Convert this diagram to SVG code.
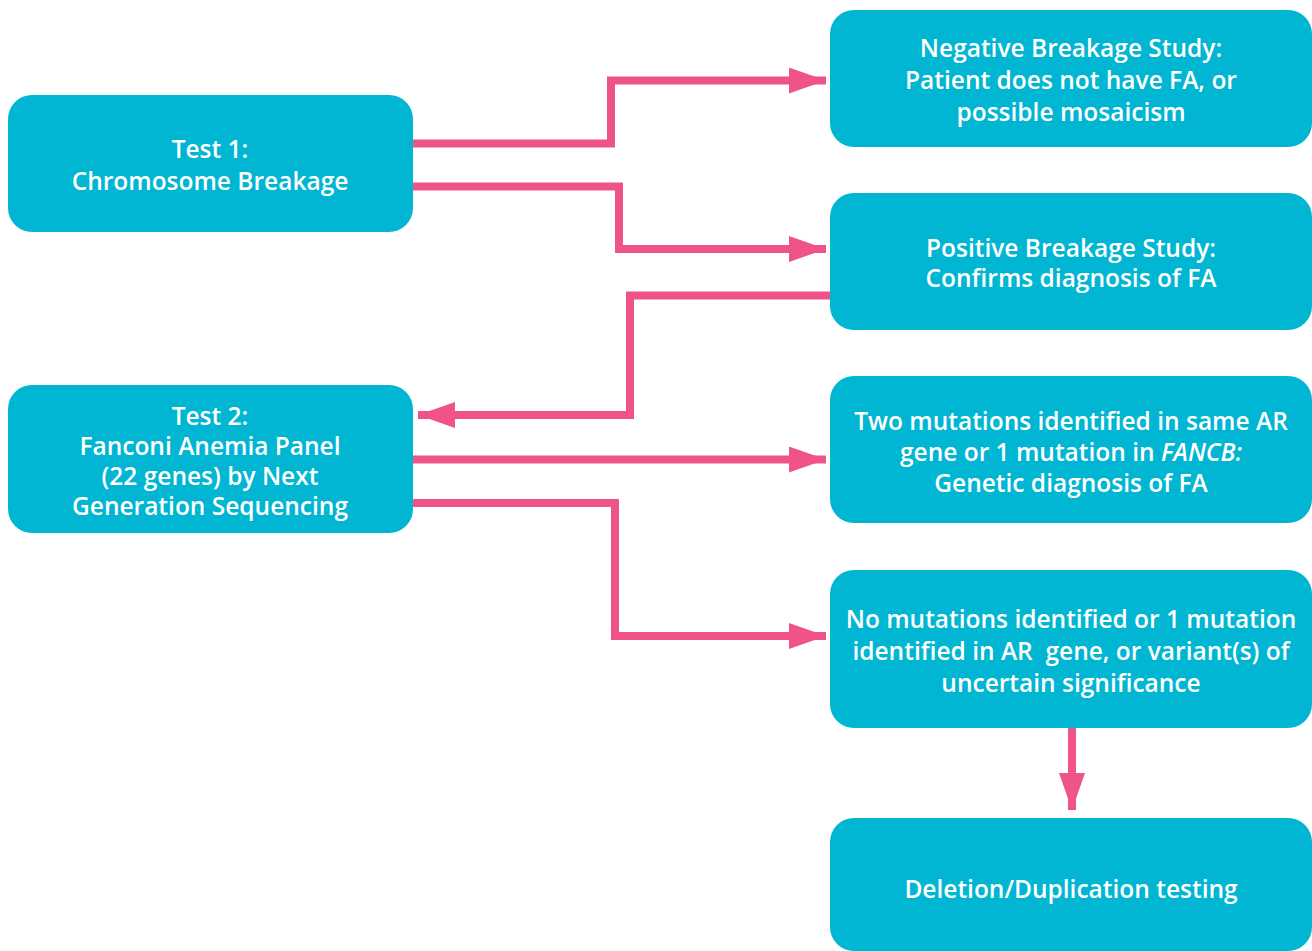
<svg xmlns="http://www.w3.org/2000/svg" width="1312" height="951" viewBox="0 0 1312 951">
<style>
.box{fill:#00B6D2;}
.t{font-family:"Open Sans","Liberation Sans",sans-serif;font-weight:600;font-size:24.5px;fill:#ffffff;text-anchor:middle;}
.c{fill:none;stroke:#F0528A;stroke-width:8;stroke-linejoin:miter;stroke-linecap:butt;}
.ah{fill:#F0528A;}
</style>
<defs>
<marker id="arr" markerUnits="userSpaceOnUse" markerWidth="40" markerHeight="28" refX="37" refY="13" orient="auto">
<path class="ah" d="M0,0 L37,13 L0,26 Z"/>
</marker>
</defs>
<rect width="1312" height="951" fill="#ffffff"/>
<g id="connectors">
<path class="c" d="M413,143.5 H611 V80.5 H826" marker-end="url(#arr)"/>
<path class="c" d="M413,186.5 H619 V249 H826" marker-end="url(#arr)"/>
<path class="c" d="M831,295.5 H630 V415 H418" marker-end="url(#arr)"/>
<path class="c" d="M413,459.5 H826" marker-end="url(#arr)"/>
<path class="c" d="M413,503 H615 V636 H826" marker-end="url(#arr)"/>
<path class="c" d="M1072,728 V810" marker-end="url(#arr)"/>
</g>
<g id="test1">
<rect class="box" x="8" y="95" width="405" height="137" rx="24"/>
<text class="t" x="210" y="158">Test 1:</text>
<text class="t" x="210" y="190">Chromosome Breakage</text>
</g>
<g id="test2">
<rect class="box" x="8" y="385" width="405" height="148" rx="24"/>
<text class="t" x="210" y="425">Test 2:</text>
<text class="t" x="210" y="455">Fanconi Anemia Panel</text>
<text class="t" x="210" y="485">(22 genes) by Next</text>
<text class="t" x="210" y="515">Generation Sequencing</text>
</g>
<g id="negative">
<rect class="box" x="830" y="10" width="482" height="137" rx="24"/>
<text class="t" x="1071" y="57">Negative Breakage Study:</text>
<text class="t" x="1071" y="89">Patient does not have FA, or</text>
<text class="t" x="1071" y="121">possible mosaicism</text>
</g>
<g id="positive">
<rect class="box" x="830" y="193" width="482" height="137" rx="24"/>
<text class="t" x="1071" y="257">Positive Breakage Study:</text>
<text class="t" x="1071" y="287">Confirms diagnosis of FA</text>
</g>
<g id="two-mutations">
<rect class="box" x="830" y="376" width="482" height="147" rx="24"/>
<text class="t" x="1071" y="430">Two mutations identified in same AR</text>
<text class="t" x="1071" y="461">gene or 1 mutation in <tspan font-style="italic">FANCB:</tspan></text>
<text class="t" x="1071" y="492">Genetic diagnosis of FA</text>
</g>
<g id="no-mutations">
<rect class="box" x="830" y="570" width="482" height="158" rx="24"/>
<text class="t" x="1071" y="628">No mutations identified or 1 mutation</text>
<text class="t" x="1071" y="660" xml:space="preserve">identified in AR  gene, or variant(s) of</text>
<text class="t" x="1071" y="692">uncertain significance</text>
</g>
<g id="deletion">
<rect class="box" x="830" y="818" width="482" height="133" rx="24"/>
<text class="t" x="1071" y="898">Deletion/Duplication testing</text>
</g>
</svg>
